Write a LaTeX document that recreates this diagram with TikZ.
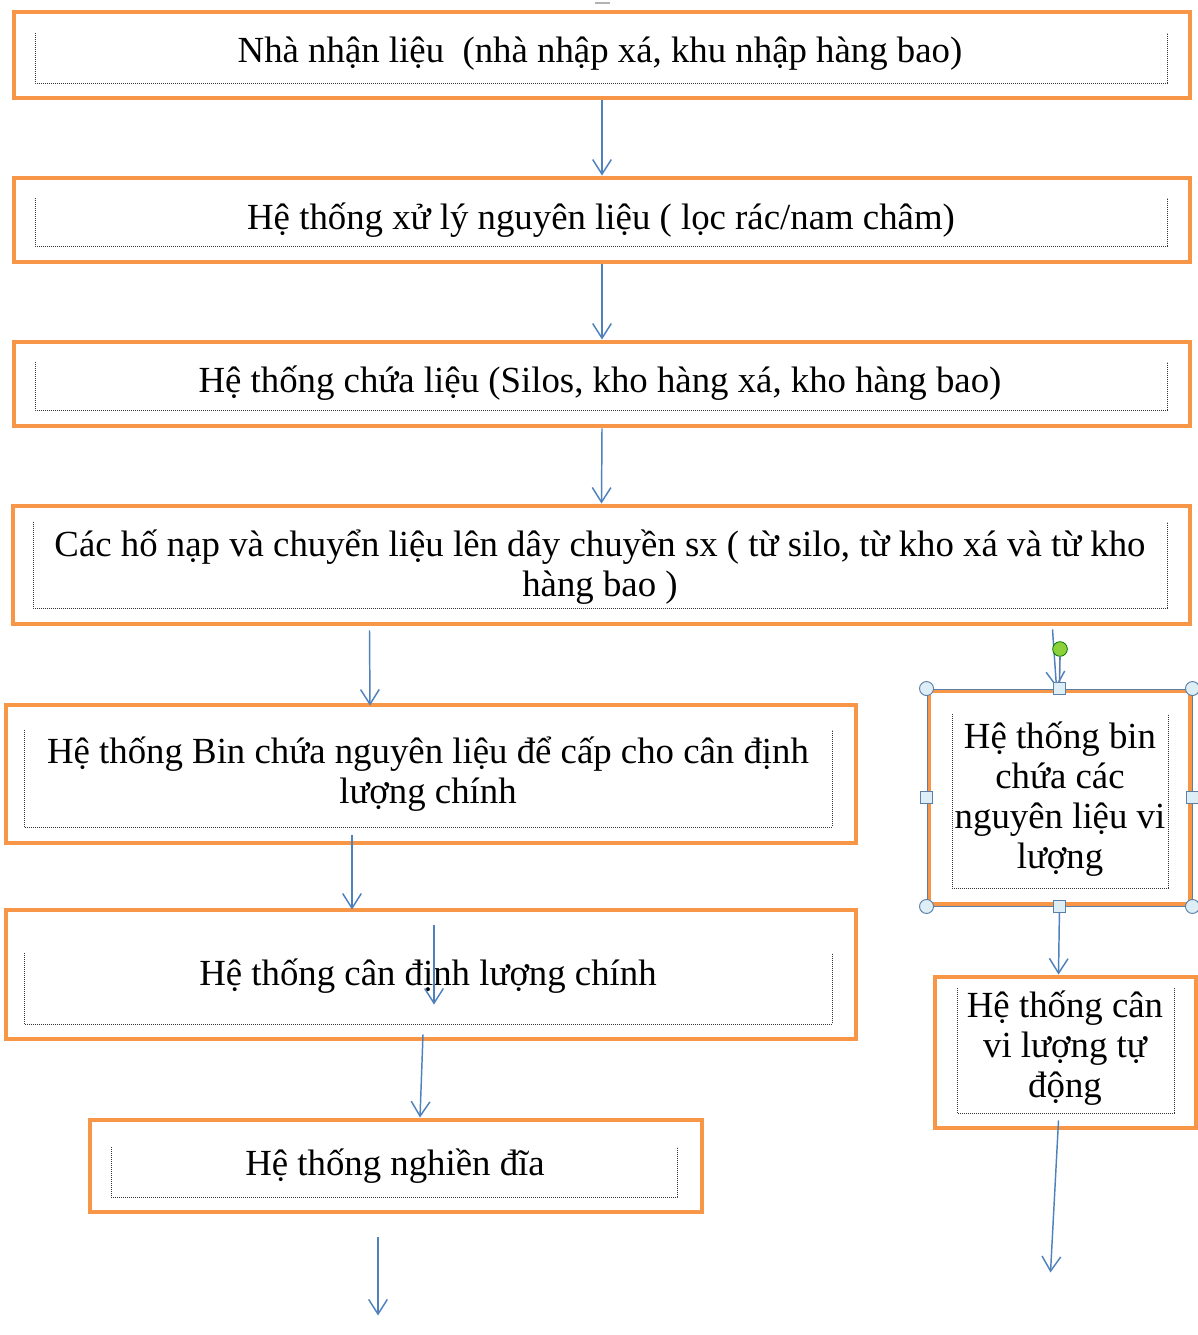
\documentclass[tikz,border=0pt]{standalone}
\usepackage{fontspec}
\setmainfont{Liberation Serif}
\usetikzlibrary{fit,calc,arrows.meta}
\definecolor{orng}{HTML}{F79646}
\definecolor{arrblue}{HTML}{4F81BD}
\definecolor{hstroke}{HTML}{5B7FA8}
\definecolor{hfill}{HTML}{DDEEF6}
\definecolor{hgreen}{HTML}{8CD03C}
\begin{document}
\begin{tikzpicture}[x=0.75pt,y=-0.75pt,
  obox/.style={draw=orng,line width=3.7pt,fill=white,inner sep=0pt},
  dotbox/.style={draw=black!80,line width=0.65pt,dash pattern=on 0.7pt off 0.8pt},
  txt/.style={font=\fontsize{27.6pt}{30pt}\selectfont,align=center,inner sep=0pt,anchor=base},
  arr/.style={draw=arrblue,line width=1.1pt,-{Straight Barb[length=11pt,width=14pt]}},
  hcirc/.style={circle,draw=hstroke,fill=hfill,line width=0.7pt,minimum size=10.5pt,inner sep=0pt},
  hsq/.style={rectangle,draw=hstroke,fill=hfill,line width=0.7pt,minimum size=8.5pt,inner sep=0pt},
  hrot/.style={circle,draw=green!45!black,fill=hgreen,line width=0.6pt,minimum size=11pt,inner sep=0pt}]
\useasboundingbox (0,0) rectangle (1198,1335);

% small mark at the top
\draw[gray!60,line width=1pt] (595,3) -- (610,3);

% boxes
\node[obox,fit={(14,12)(1190,98)}] (b1) {};
\node[obox,fit={(14,178)(1190,262)}] (b2) {};
\node[obox,fit={(14,342)(1190,426)}] (b3) {};
\node[obox,fit={(13,506)(1190,624)}] (b4) {};
\node[obox,fit={(6,705)(856,843)}] (b5) {};
\node[obox,fit={(6,910)(856,1039)}] (b6) {};
\node[obox,fit={(90,1120)(702,1212)}] (b7) {};
\node[obox,fit={(929,691)(1190,904)}] (b8) {};
\node[obox,fit={(935,977)(1196,1128)}] (b9) {};

% inner dotted frames
\draw[dotbox] (35,33) -- (35,83) -- (1167,83) -- (1167,33);
\draw[dotbox] (35,198) -- (35,246) -- (1167,246) -- (1167,198);
\draw[dotbox] (35,362) -- (35,410) -- (1167,410) -- (1167,362);
\draw[dotbox] (33,522) -- (33,608) -- (1167,608) -- (1167,522);
\draw[dotbox] (24,730) -- (24,827) -- (832,827) -- (832,730);
\draw[dotbox] (24,953) -- (24,1024) -- (832,1024) -- (832,953);
\draw[dotbox] (111,1147) -- (111,1197) -- (677,1197) -- (677,1147);
\draw[dotbox] (952,714) -- (952,888) -- (1168,888) -- (1168,714);
\draw[dotbox] (957,988) -- (957,1113) -- (1174,1113) -- (1174,988);

% texts (base anchor = baseline of the last line)
\node[txt] (t1) at (600,62) {Nhà nhận liệu\ \ (nhà nhập xá, khu nhập hàng bao)};
\node[txt] (t2) at (601,229) {Hệ thống xử lý nguyên liệu ( lọc rác/nam châm)};
\node[txt] (t3) at (600,392) {Hệ thống chứa liệu (Silos, kho hàng xá, kho hàng bao)};
\node[txt] (t4) at (600,596) {Các hố nạp và chuyển liệu lên dây chuyền sx ( từ silo, từ kho xá và từ kho\\hàng bao )};
\node[txt] (t5) at (428,803) {Hệ thống Bin chứa nguyên liệu để cấp cho cân định\\lượng chính};
\node[txt] (t6) at (428,985) {Hệ thống cân định lượng chính};
\node[txt] (t7) at (395,1175) {Hệ thống nghiền đĩa};
\node[txt] (t8) at (1060,868) {Hệ thống bin\\chứa các\\nguyên liệu vi\\lượng};
\node[txt] (t9) at (1065,1097) {Hệ thống cân\\vi lượng tự\\động};

% connectors
\draw[arr] (b1.south) -- (b2.north);
\draw[arr] (b2.south) -- (b3.north);
\draw[arr] (b3.south) -- (b4.north);
\draw[arr] ($(b4.south)+(-232,4)$) -- ($(b5.north)+(-61,3)$);
\draw[arr] ($(b5.south)+(-79,-10)$) -- ($(b6.north)+(-79,2)$);
\draw[arr] ($(b6.north)+(3,17)$) -- ($(b6.north)+(3,97)$);
\draw[arr] ($(b6.south)+(-8,-7)$) -- ($(b7.north)+(24,0)$);
\coordinate (e7) at ($(b7.south)+(-18,101)$);
\draw[arr] ($(b7.south)+(-18,23)$) -- (e7);
\draw[arr] ($(b4.south)+(451,3)$) -- ($(b8.north)+(-3,-1)$);
\draw[arr] (b8.south) -- ($(b9.north)+(-7,0)$);
\coordinate (e9) at ($(b9.south)+(-15,142)$);
\draw[arr] ($(b9.south)+(-7,-10)$) -- (e9);

% selection frame and handles of the right box
\draw[hstroke,line width=0.7pt] (927,689) rectangle (1192,906);
\node[hrot] (rot) at (1060,649) {};
\node[hsq] (hn) at (b8.north) {};
\draw[hstroke,line width=1.2pt] (rot.south) -- (hn.north);
\node[hcirc] (hnw) at (b8.north west) {};
\node[hcirc] (hne) at (b8.north east) {};
\node[hcirc] (hsw) at (b8.south west) {};
\node[hcirc] (hse) at (b8.south east) {};
\node[hsq] (hw) at (b8.west) {};
\node[hsq] (he) at (b8.east) {};
\node[hsq] (hs) at (b8.south) {};
\end{tikzpicture}
\end{document}
